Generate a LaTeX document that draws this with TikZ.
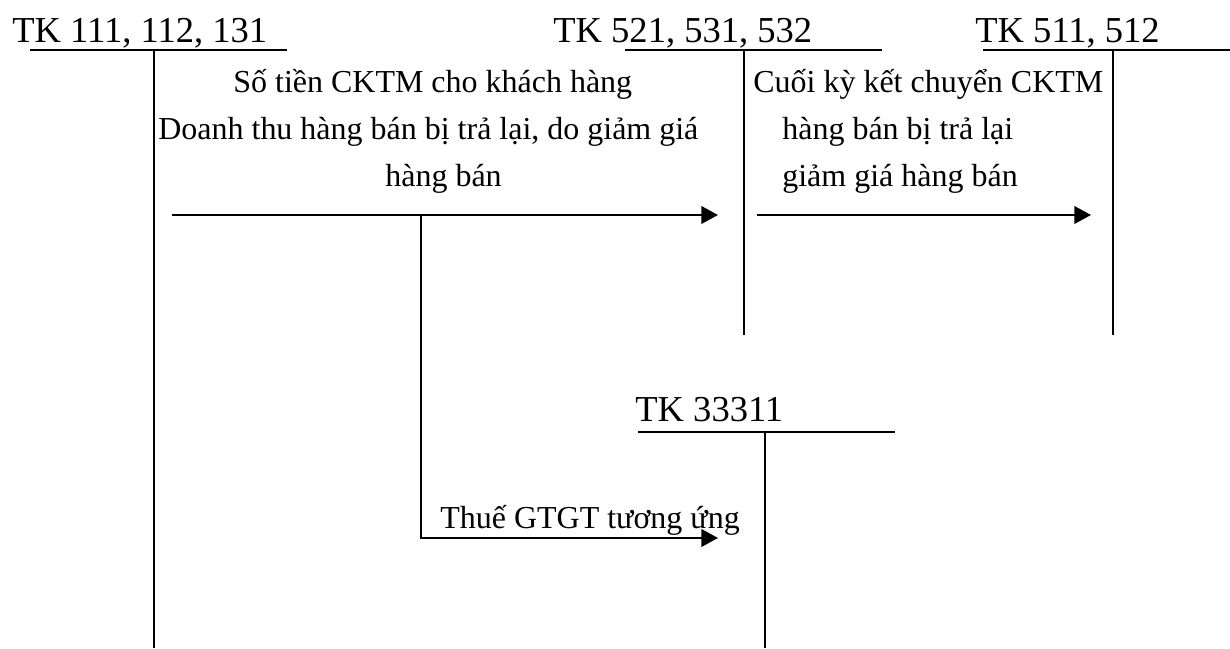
\documentclass[tikz,border=0pt]{standalone}
\usepackage{fontspec}
\setmainfont{Liberation Serif}
\usepackage{tikz}
\usetikzlibrary{arrows.meta,calc,positioning}

\begin{document}
\begin{tikzpicture}[
          acc/.style={anchor=base west, inner sep=0pt, font=\fontsize{20.8}{25}\selectfont},
          lbl/.style={anchor=base west, inner sep=0pt, font=\fontsize{18.2}{22}\selectfont},
          tline/.style={line width=1.25pt},
          arr/.style={-{Triangle[length=9.5pt,width=10pt]}, line width=1.25pt}
      ]
        \useasboundingbox (0,0) rectangle (24.6,12.96);
        % T-accounts
        \node[acc] (acc111) at (0.24,12.1) {TK 111, 112, 131};
        \node[acc] (acc521) at (11.06,12.1) {TK 521, 531, 532};
        \node[acc] (acc511) at (19.5,12.1) {TK 511, 512};
        \node[acc] (acc33311) at (12.7,4.52) {TK 33311};
        \draw[tline] (0.6,11.96) -- (5.74,11.96) (3.08,11.96) -- (3.08,0);
        \draw[tline] (12.5,11.96) -- (17.64,11.96) (14.88,11.96) -- (14.88,6.26);
        \draw[tline] (19.66,11.96) -- (24.6,11.96) (22.26,11.96) -- (22.26,6.26);
        \draw[tline] (12.76,4.32) -- (17.9,4.32) (15.3,4.32) -- (15.3,0);
        % entries
        \coordinate (from111) at (3.44,8.66);
        \coordinate (to521) at (14.36,8.66);
        \coordinate (from521) at (15.14,8.66);
        \coordinate (to511) at (21.82,8.66);
        \coordinate (fork) at (8.42,8.66);
        \coordinate (bend) at (8.42,2.2);
        \coordinate (to33311) at (14.36,2.2);
        \node[lbl] (ck1) at (4.66,11.1) {Số tiền CKTM cho khách hàng};
        \node[lbl] (ck2) at (3.16,10.16) {Doanh thu hàng bán bị trả lại, do giảm giá};
        \node[lbl] (ck3) at (7.7,9.22) {hàng bán};
        \node[lbl] (kc1) at (15.06,11.1) {Cuối kỳ kết chuyển CKTM};
        \node[lbl] (kc2) at (15.64,10.16) {hàng bán bị trả lại};
        \node[lbl] (kc3) at (15.64,9.22) {giảm giá hàng bán};
        \node[lbl] (vat) at (8.8,2.4) {Thuế GTGT tương ứng};
        \draw[arr] (from111) -- (to521);
        \draw[arr] (from521) -- (to511);
        \draw[arr] (fork) -- (bend) -- (to33311);
      \end{tikzpicture}
\end{document}
